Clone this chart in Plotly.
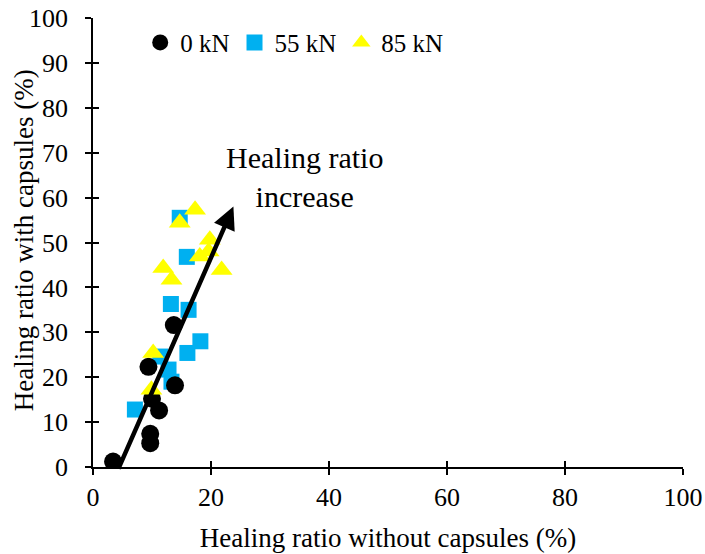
import plotly.graph_objects as go

# ---- data ----
x_0kN = [3.4, 9.7, 9.7, 11.2, 10.0, 13.9, 9.4, 13.7]
y_0kN = [1.2, 5.3, 7.4, 12.6, 15.2, 18.2, 22.3, 31.6]

x_55kN = [7.1, 11.4, 12.8, 13.3, 16.0, 18.2, 13.2, 16.2, 15.9, 14.7]
y_55kN = [12.8, 24.6, 21.7, 19.0, 25.4, 28.0, 36.3, 35.0, 46.8, 55.5]

x_85kN = [9.9, 10.2, 13.3, 11.9, 21.8, 18.1, 19.6, 19.8, 14.7, 17.3]
y_85kN = [17.2, 25.4, 41.7, 44.3, 43.9, 46.9, 48.0, 50.6, 54.4, 57.3]

x_ticks = [0, 20, 40, 60, 80, 100]
y_ticks = [0, 10, 20, 30, 40, 50, 60, 70, 80, 90, 100]

arrow_tail = (4.2, -0.7)
arrow_tip = (23.8, 58.0)

FONT = "Liberation Serif"

fig = go.Figure()
fig.add_trace(go.Scatter(x=x_55kN, y=y_55kN, mode="markers", name="55 kN",
                         marker=dict(symbol="square", size=16, color="#00B0F0"),
                         legendrank=2))
fig.add_trace(go.Scatter(x=x_0kN, y=y_0kN, mode="markers", name="0 kN",
                         marker=dict(symbol="circle", size=18, color="black"),
                         legendrank=1))
fig.add_trace(go.Scatter(x=x_85kN, y=y_85kN, mode="markers", name="85 kN",
                         marker=dict(symbol="triangle-up", size=19, color="#FFFF00"),
                         legendrank=3))
# empty trace to host the overlay axes (inside half of the cross ticks)
fig.add_trace(go.Scatter(x=[None], y=[None], xaxis="x2", yaxis="y2",
                         showlegend=False, hoverinfo="skip"))

axis_common = dict(showline=True, linecolor="black", linewidth=1.5,
                   ticks="outside", ticklen=6, tickwidth=1.5, tickcolor="black",
                   showgrid=False, zeroline=False, automargin=False,
                   tickfont=dict(family=FONT, size=26, color="black"))

fig.update_layout(
    template="none",
    width=705, height=554,
    margin=dict(l=93, r=22, t=18, b=87, autoexpand=False),
    paper_bgcolor="white", plot_bgcolor="white",
    font=dict(family=FONT, color="black"),
    xaxis=dict(range=[0, 100], tickvals=x_ticks, **axis_common,
               title=dict(text="Healing ratio without capsules (%)",
                          font=dict(family=FONT, size=27, color="black"),
                          standoff=17)),
    yaxis=dict(range=[0, 100], tickvals=y_ticks, **axis_common,
               ticklabelstandoff=12),
    xaxis2=dict(range=[0, 100], tickvals=x_ticks, overlaying="x", anchor="y",
                ticks="inside", ticklen=6, tickwidth=1.5, tickcolor="black",
                showticklabels=False, showline=False, showgrid=False, zeroline=False,
                automargin=False),
    yaxis2=dict(range=[0, 100], tickvals=y_ticks, overlaying="y", anchor="x",
                ticks="inside", ticklen=6, tickwidth=1.5, tickcolor="black",
                showticklabels=False, showline=False, showgrid=False, zeroline=False,
                automargin=False),
    legend=dict(orientation="h", x=0.08, xanchor="left", y=0.945, yanchor="middle",
                bgcolor="rgba(0,0,0,0)", font=dict(family=FONT, size=25, color="black"),
                itemsizing="trace", traceorder="normal"),
    showlegend=True,
)

# y-axis title (as rotated text for exact placement)
fig.add_annotation(x=-0.117, y=0.505, xref="paper", yref="paper",
                   text="Healing ratio with capsules (%)", textangle=-90,
                   showarrow=False, xanchor="center", yanchor="middle",
                   font=dict(family=FONT, size=27, color="black"))

fig.add_annotation(x=arrow_tip[0], y=arrow_tip[1], ax=arrow_tail[0], ay=arrow_tail[1],
                   xref="x", yref="y", axref="x", ayref="y", text="",
                   showarrow=True, arrowhead=2, arrowsize=1, arrowwidth=4.5,
                   arrowcolor="black")
fig.add_annotation(x=35.9, y=64.6, xref="x", yref="y",
                   text="Healing ratio<br>increase", showarrow=False,
                   font=dict(family=FONT, size=30, color="black"),
                   xanchor="center", yanchor="middle")

fig.write_html("out.html")
